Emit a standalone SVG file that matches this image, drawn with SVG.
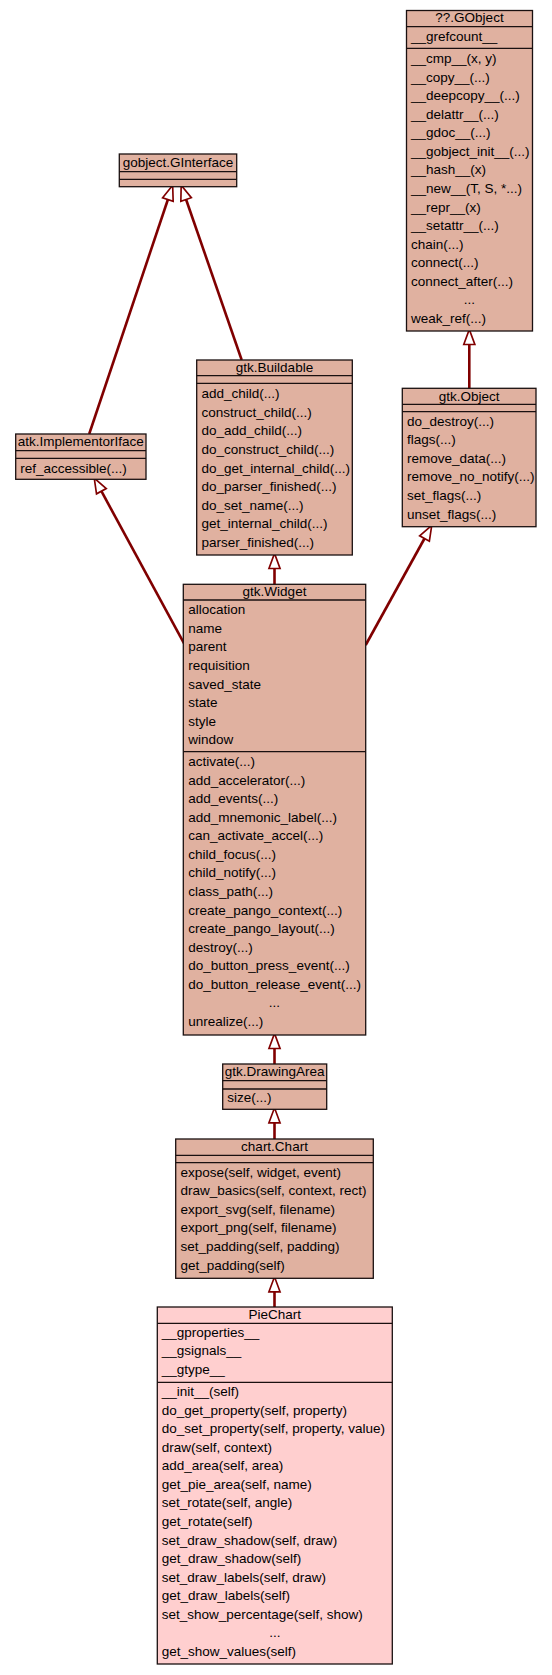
<svg xmlns="http://www.w3.org/2000/svg" width="552" height="1675" viewBox="0 0 552 1675">
<style>
.box{fill:#e0b1a0;stroke:#1a1010;stroke-width:1.3}
.pie{fill:#ffcfcf;stroke:#1a1010;stroke-width:1.3}
.sep{stroke:#1a1010;stroke-width:1.3}
text{font-family:"Liberation Sans",Arial,sans-serif;font-size:13.5px;fill:#000}
.t{text-anchor:middle}
.e{fill:none;stroke:#800000;stroke-width:2.6}
</style>
<defs>
<marker id="ah" markerUnits="userSpaceOnUse" markerWidth="20" markerHeight="16" refX="0" refY="6" viewBox="-1 0 18 12" orient="auto" overflow="visible">
<path d="M0,1 L13.5,6 L0,11 Z" fill="#fff" stroke="#800000" stroke-width="1.5"/>
</marker>
</defs>
<g id="connectors">
<path class="e" d="M469.3,388.3 L469.3,344.5" marker-end="url(#ah)"/>
<path class="e" d="M241.7,360 L186.1,199.5" marker-end="url(#ah)"/>
<path class="e" d="M89.2,434 L167.9,199.5" marker-end="url(#ah)"/>
<path class="e" d="M184,643.3 L101.4,491.2" marker-end="url(#ah)"/>
<path class="e" d="M365.7,645 L424.5,538.5" marker-end="url(#ah)"/>
<path class="e" d="M274.5,584.3 L274.5,568.5" marker-end="url(#ah)"/>
<path class="e" d="M274.5,1064 L274.5,1048.5" marker-end="url(#ah)"/>
<path class="e" d="M274.5,1139 L274.5,1122.8" marker-end="url(#ah)"/>
<path class="e" d="M274.5,1307 L274.5,1291.8" marker-end="url(#ah)"/>
</g>
<g id="GObject">
<rect class="box" x="406.5" y="10.5" width="126" height="320.5"/>
<line class="sep" x1="406.5" y1="26.7" x2="532.5" y2="26.7"/>
<line class="sep" x1="406.5" y1="48.3" x2="532.5" y2="48.3"/>
<text class="t" x="469.5" y="22.3">??.GObject</text>
<text x="411" y="41">__grefcount__</text>
<text x="411" y="62.9">__cmp__(x, y)</text>
<text x="411" y="81.5">__copy__(...)</text>
<text x="411" y="100">__deepcopy__(...)</text>
<text x="411" y="118.6">__delattr__(...)</text>
<text x="411" y="137.2">__gdoc__(...)</text>
<text x="411" y="155.8">__gobject_init__(...)</text>
<text x="411" y="174.3">__hash__(x)</text>
<text x="411" y="192.9">__new__(T, S, *...)</text>
<text x="411" y="211.5">__repr__(x)</text>
<text x="411" y="230">__setattr__(...)</text>
<text x="411" y="248.6">chain(...)</text>
<text x="411" y="267.2">connect(...)</text>
<text x="411" y="285.7">connect_after(...)</text>
<text class="t" x="469.5" y="304.3">...</text>
<text x="411" y="322.9">weak_ref(...)</text>
</g>
<g id="GInterface">
<rect class="box" x="119.3" y="154" width="117.4" height="32.7"/>
<line class="sep" x1="119.3" y1="171.7" x2="236.7" y2="171.7"/>
<line class="sep" x1="119.3" y1="179.3" x2="236.7" y2="179.3"/>
<text class="t" x="178" y="167">gobject.GInterface</text>
</g>
<g id="ImplementorIface">
<rect class="box" x="15.7" y="434" width="130.3" height="45.3"/>
<line class="sep" x1="15.7" y1="450.7" x2="146" y2="450.7"/>
<line class="sep" x1="15.7" y1="458.3" x2="146" y2="458.3"/>
<text class="t" x="80.8" y="446.3">atk.ImplementorIface</text>
<text x="20.3" y="472.8">ref_accessible(...)</text>
</g>
<g id="Buildable">
<rect class="box" x="196.7" y="360" width="155.6" height="195"/>
<line class="sep" x1="196.7" y1="375.7" x2="352.3" y2="375.7"/>
<line class="sep" x1="196.7" y1="383.3" x2="352.3" y2="383.3"/>
<text class="t" x="274.5" y="372.3">gtk.Buildable</text>
<text x="201.5" y="398.3">add_child(...)</text>
<text x="201.5" y="416.9">construct_child(...)</text>
<text x="201.5" y="435.4">do_add_child(...)</text>
<text x="201.5" y="454">do_construct_child(...)</text>
<text x="201.5" y="472.6">do_get_internal_child(...)</text>
<text x="201.5" y="491.2">do_parser_finished(...)</text>
<text x="201.5" y="509.7">do_set_name(...)</text>
<text x="201.5" y="528.3">get_internal_child(...)</text>
<text x="201.5" y="546.9">parser_finished(...)</text>
</g>
<g id="Object">
<rect class="box" x="402.3" y="388.3" width="133.7" height="138.4"/>
<line class="sep" x1="402.3" y1="404.3" x2="536" y2="404.3"/>
<line class="sep" x1="402.3" y1="411.7" x2="536" y2="411.7"/>
<text class="t" x="469.2" y="400.6">gtk.Object</text>
<text x="407" y="425.7">do_destroy(...)</text>
<text x="407" y="444.3">flags(...)</text>
<text x="407" y="462.8">remove_data(...)</text>
<text x="407" y="481.4">remove_no_notify(...)</text>
<text x="407" y="500">set_flags(...)</text>
<text x="407" y="518.6">unset_flags(...)</text>
</g>
<g id="Widget">
<rect class="box" x="183.3" y="584.3" width="182.4" height="450.7"/>
<line class="sep" x1="183.3" y1="600" x2="365.7" y2="600"/>
<line class="sep" x1="183.3" y1="751.7" x2="365.7" y2="751.7"/>
<text class="t" x="274.5" y="596.4">gtk.Widget</text>
<text x="188.3" y="614.3">allocation</text>
<text x="188.3" y="632.9">name</text>
<text x="188.3" y="651.4">parent</text>
<text x="188.3" y="670">requisition</text>
<text x="188.3" y="688.6">saved_state</text>
<text x="188.3" y="707.2">state</text>
<text x="188.3" y="725.7">style</text>
<text x="188.3" y="744.3">window</text>
<text x="188.3" y="766">activate(...)</text>
<text x="188.3" y="784.6">add_accelerator(...)</text>
<text x="188.3" y="803.1">add_events(...)</text>
<text x="188.3" y="821.7">add_mnemonic_label(...)</text>
<text x="188.3" y="840.3">can_activate_accel(...)</text>
<text x="188.3" y="858.9">child_focus(...)</text>
<text x="188.3" y="877.4">child_notify(...)</text>
<text x="188.3" y="896">class_path(...)</text>
<text x="188.3" y="914.6">create_pango_context(...)</text>
<text x="188.3" y="933.1">create_pango_layout(...)</text>
<text x="188.3" y="951.7">destroy(...)</text>
<text x="188.3" y="970.3">do_button_press_event(...)</text>
<text x="188.3" y="988.8">do_button_release_event(...)</text>
<text class="t" x="274.5" y="1007.4">...</text>
<text x="188.3" y="1026">unrealize(...)</text>
</g>
<g id="DrawingArea">
<rect class="box" x="222.7" y="1064" width="104" height="45.3"/>
<line class="sep" x1="222.7" y1="1080.7" x2="326.7" y2="1080.7"/>
<line class="sep" x1="222.7" y1="1089" x2="326.7" y2="1089"/>
<text class="t" x="274.7" y="1076.3">gtk.DrawingArea</text>
<text x="227.3" y="1102.3">size(...)</text>
</g>
<g id="Chart">
<rect class="box" x="175.7" y="1139" width="197.6" height="139.3"/>
<line class="sep" x1="175.7" y1="1155.3" x2="373.3" y2="1155.3"/>
<line class="sep" x1="175.7" y1="1162.7" x2="373.3" y2="1162.7"/>
<text class="t" x="274.5" y="1151">chart.Chart</text>
<text x="180.5" y="1176.7">expose(self, widget, event)</text>
<text x="180.5" y="1195.3">draw_basics(self, context, rect)</text>
<text x="180.5" y="1213.8">export_svg(self, filename)</text>
<text x="180.5" y="1232.4">export_png(self, filename)</text>
<text x="180.5" y="1251">set_padding(self, padding)</text>
<text x="180.5" y="1269.6">get_padding(self)</text>
</g>
<g id="PieChart">
<rect class="pie" x="157.3" y="1307" width="235" height="357"/>
<line class="sep" x1="157.3" y1="1323.3" x2="392.3" y2="1323.3"/>
<line class="sep" x1="157.3" y1="1382.3" x2="392.3" y2="1382.3"/>
<text class="t" x="274.8" y="1319.3">PieChart</text>
<text x="161.7" y="1336.7">__gproperties__</text>
<text x="161.7" y="1355.3">__gsignals__</text>
<text x="161.7" y="1373.8">__gtype__</text>
<text x="161.7" y="1396">__init__(self)</text>
<text x="161.7" y="1414.6">do_get_property(self, property)</text>
<text x="161.7" y="1433.1">do_set_property(self, property, value)</text>
<text x="161.7" y="1451.7">draw(self, context)</text>
<text x="161.7" y="1470.3">add_area(self, area)</text>
<text x="161.7" y="1488.9">get_pie_area(self, name)</text>
<text x="161.7" y="1507.4">set_rotate(self, angle)</text>
<text x="161.7" y="1526">get_rotate(self)</text>
<text x="161.7" y="1544.6">set_draw_shadow(self, draw)</text>
<text x="161.7" y="1563.1">get_draw_shadow(self)</text>
<text x="161.7" y="1581.7">set_draw_labels(self, draw)</text>
<text x="161.7" y="1600.3">get_draw_labels(self)</text>
<text x="161.7" y="1618.8">set_show_percentage(self, show)</text>
<text class="t" x="274.8" y="1637.4">...</text>
<text x="161.7" y="1656">get_show_values(self)</text>
</g>
</svg>
